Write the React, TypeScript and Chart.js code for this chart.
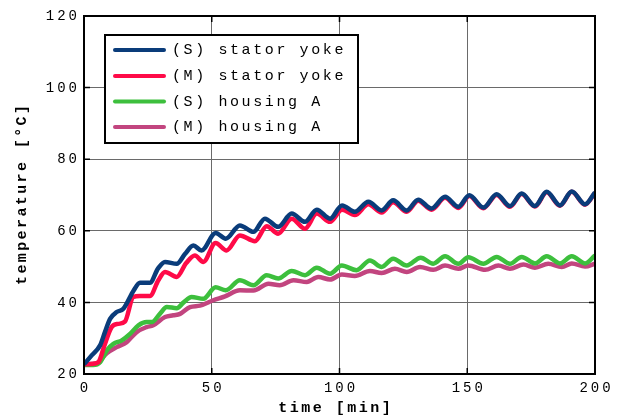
import React, { useEffect, useRef } from "react";
import { Chart, registerables } from "chart.js";
Chart.register(...registerables);

const FONT = '"Liberation Mono", "DejaVu Sans Mono", monospace';

const seriesLabels = ["(S) stator yoke", "(M) stator yoke", "(S) housing A", "(M) housing A"];
const seriesColors = ["#0a3c7a", "#ff0a48", "#3dbf3d", "#c2457f"];
const xTickValues = [0, 50, 100, 150, 200];
const yTickValues = [20, 40, 60, 80, 100, 120];
const xTitle = "time [min]";
const yTitle = "temperature [°C]";

const sStatorT = [0, 3, 6.3, 8.2, 10.2, 12.8, 15.4, 19.5, 21.9, 25.8, 29, 31.7, 36.3, 39.5, 42.8, 46, 51.5, 55.5, 61, 66.3, 70.8, 76, 81.3, 86.5, 91.1, 96.3, 101, 106, 111.3, 116.5, 121, 126.3, 130.8, 136, 141.3, 146.5, 150.8, 156.3, 161.5, 166.7, 171.3, 176.5, 181.1, 186.3, 190.9, 196.1, 200];
const sStatorV = [22.7, 25.2, 28, 31.7, 35.4, 37.3, 38.2, 43.4, 45.5, 45.5, 49.5, 51.3, 50.8, 53.5, 55.9, 54.5, 59.4, 57.8, 61.5, 59.7, 63.4, 61.1, 64.8, 62.5, 65.9, 63.4, 67.1, 65.3, 68.1, 65.7, 68.5, 65.7, 68.7, 66.2, 69.5, 66.7, 69.9, 66.5, 70.2, 66.9, 70.4, 66.9, 70.9, 67.1, 71, 67.4, 70.7];

const mStatorT = [0, 3, 5.6, 8.2, 10.8, 13.4, 16, 19.3, 21.9, 25.8, 29.1, 31.7, 36.3, 40, 43.4, 46.7, 51.5, 55.8, 61, 66.9, 71.5, 76, 81.3, 86.5, 91.1, 96.3, 101, 106, 111.3, 116.5, 121, 126.3, 130.8, 136, 141.3, 146.5, 150.8, 156.3, 161.5, 166.7, 171.3, 176.5, 181.1, 186.3, 190.9, 196.1, 200];
const mStatorV = [22.7, 22.8, 23.3, 28.4, 33.1, 34, 34.6, 41.5, 41.8, 41.8, 46.2, 48.5, 47.1, 51, 53.1, 51.3, 56.6, 54.5, 58.7, 57.1, 61.3, 59.2, 63.4, 60.6, 64.8, 62.5, 65.9, 64.4, 67.4, 65.1, 68, 65.3, 68.4, 65.9, 69.2, 66.4, 69.7, 66.3, 70, 66.7, 70.3, 66.8, 70.8, 67, 70.9, 67.3, 70.6];

const sHousingT = [0, 3.6, 6.3, 8.9, 11.5, 14.8, 18, 21.3, 24.5, 26.5, 29.7, 32.4, 36.3, 39, 42.1, 46.7, 51.5, 55.5, 61, 66.3, 71.5, 76, 81.3, 86.5, 91.1, 96.3, 100.9, 106.7, 111.9, 116.5, 121, 126.3, 131.8, 136.7, 141.3, 146.5, 150.4, 156.3, 161.5, 166.7, 171.3, 176.5, 181.1, 186.3, 190.9, 196.1, 200];
const sHousingV = [22.5, 22.5, 23.3, 26.6, 28.4, 29.4, 31.2, 33.6, 34.5, 34.5, 36.8, 38.7, 38.4, 40, 41.5, 41, 44.2, 43.4, 46.2, 44.8, 47.6, 46.7, 48.8, 47.6, 49.7, 48, 50.3, 49, 51.7, 49.9, 52.2, 50.3, 52.5, 50.8, 52.9, 50.8, 52.6, 50.8, 52.7, 50.8, 52.7, 50.9, 52.9, 50.9, 52.9, 50.9, 53.1];

const mHousingT = [0, 5, 8.9, 12.8, 16.7, 20.6, 24.5, 27.1, 31.7, 35, 37.6, 41.5, 45.4, 50.6, 55.2, 61, 66.3, 72.2, 76.6, 82, 87.2, 91.7, 96.3, 100.9, 106, 111.9, 116.5, 121.7, 126.3, 131.5, 136.7, 141.3, 146.5, 150.4, 157, 162.2, 166.7, 172, 176.5, 181.7, 187, 190.9, 196.1, 200];
const mHousingV = [22.7, 23, 25.8, 27.5, 28.9, 31.7, 33.1, 33.6, 35.9, 36.4, 36.8, 38.7, 39.1, 40.6, 41.7, 43.4, 43.3, 45.2, 44.8, 46.2, 45.7, 47.1, 46.4, 47.8, 47.4, 48.8, 48.2, 49.4, 48.5, 49.9, 49.1, 50.3, 49.4, 50.3, 49.1, 50.3, 49.4, 50.6, 49.7, 50.8, 49.9, 50.9, 50, 50.8];

const pts = (t: number[], v: number[]) => t.map((x, i) => ({ x, y: v[i] }));

function spacedText(ctx: CanvasRenderingContext2D, text: string, x: number, y: number, align: "left" | "right" | "center", spacing: number) {
  (ctx as any).letterSpacing = spacing + "px";
  ctx.textAlign = "left";
  const w = ctx.measureText(text).width - spacing;
  let sx = x;
  if (align === "right") sx = x - w;
  else if (align === "center") sx = x - w / 2;
  ctx.fillText(text, sx, y);
}

const customPlugin = {
  id: "customDecor",
  beforeDraw(chart: any) {
    const ctx = chart.ctx;
    ctx.save();
    ctx.fillStyle = "#fff";
    ctx.fillRect(0, 0, chart.width, chart.height);
    ctx.restore();
  },
  afterDraw(chart: any) {
    const { ctx, chartArea: a, scales } = chart;
    ctx.save();
    // inner tick marks
    ctx.strokeStyle = "#000";
    ctx.lineWidth = 1.5;
    const tl = 6;
    yTickValues.forEach((v) => {
      const y = scales.y.getPixelForValue(v);
      ctx.beginPath();
      ctx.moveTo(a.left, y); ctx.lineTo(a.left + tl, y);
      ctx.moveTo(a.right, y); ctx.lineTo(a.right - tl, y);
      ctx.stroke();
    });
    xTickValues.forEach((v) => {
      const x = scales.x.getPixelForValue(v);
      ctx.beginPath();
      ctx.moveTo(x, a.bottom); ctx.lineTo(x, a.bottom - tl);
      ctx.moveTo(x, a.top); ctx.lineTo(x, a.top + tl);
      ctx.stroke();
    });
    // frame
    ctx.lineWidth = 2;
    ctx.strokeRect(a.left, a.top, a.right - a.left, a.bottom - a.top);

    // tick labels
    ctx.fillStyle = "#000";
    ctx.font = `14px ${FONT}`;
    ctx.textBaseline = "middle";
    yTickValues.forEach((v) => {
      const y = scales.y.getPixelForValue(v);
      spacedText(ctx, String(v), a.left - 7, y + 0.5, "right", 3);
    });
    xTickValues.forEach((v) => {
      const x = scales.x.getPixelForValue(v);
      spacedText(ctx, String(v), x, a.bottom + 14.5, "center", 3);
    });

    // axis titles
    ctx.font = `bold 15px ${FONT}`;
    spacedText(ctx, xTitle, (a.left + a.right) / 2 - 5, 408, "center", 2.5);
    ctx.save();
    ctx.translate(22, (a.top + a.bottom) / 2);
    ctx.rotate(-Math.PI / 2);
    spacedText(ctx, yTitle, 0, 0, "center", 2.4);
    ctx.restore();

    // legend
    const lx = 105, ly = 35, lw = 253, lh = 108;
    ctx.fillStyle = "#fff";
    ctx.fillRect(lx, ly, lw, lh);
    ctx.strokeStyle = "#000";
    ctx.lineWidth = 2;
    ctx.strokeRect(lx, ly, lw, lh);
    const rows = [50, 76, 101.5, 127];
    chart.data.datasets.forEach((ds: any, i: number) => {
      const ry = rows[i];
      ctx.strokeStyle = ds.borderColor;
      ctx.lineWidth = 4;
      ctx.lineCap = "round";
      ctx.beginPath();
      ctx.moveTo(115, ry); ctx.lineTo(164, ry);
      ctx.stroke();
      ctx.fillStyle = "#000";
      ctx.font = `15px ${FONT}`;
      ctx.textBaseline = "middle";
      spacedText(ctx, ds.label, 172, ry + 0.5, "left", 2.6);
    });
    ctx.restore();
  },
};

export default function App() {
  const ref = useRef<HTMLCanvasElement>(null);
  useEffect(() => {
    const canvas = ref.current!;
    const data = [
      pts(sStatorT, sStatorV),
      pts(mStatorT, mStatorV),
      pts(sHousingT, sHousingV),
      pts(mHousingT, mHousingV),
    ];
    const chart = new Chart(canvas, {
      type: "line",
      data: {
        datasets: data.map((d, i) => ({
          label: seriesLabels[i],
          data: d,
          borderColor: seriesColors[i],
          backgroundColor: seriesColors[i],
          borderWidth: 4.5,
          pointRadius: 0,
          cubicInterpolationMode: "monotone" as const,
          fill: false,
        })),
      },
      options: {
        responsive: false,
        animation: false,
        devicePixelRatio: 1,
        layout: { padding: { top: 16, right: 22, left: 0, bottom: 0 } },
        plugins: { legend: { display: false }, tooltip: { enabled: false } },
        scales: {
          x: {
            type: "linear",
            min: 0,
            max: 200,
            ticks: { stepSize: 50, display: false },
            grid: { color: "#6a6a6a", lineWidth: 1, drawTicks: false },
            border: { display: false },
            afterFit: (s: any) => { s.height = 45; },
          },
          y: {
            type: "linear",
            min: 20,
            max: 120,
            ticks: { stepSize: 20, display: false },
            grid: { color: "#6a6a6a", lineWidth: 1, drawTicks: false },
            border: { display: false },
            afterFit: (s: any) => { s.width = 84; },
          },
        },
      },
      plugins: [customPlugin],
    });
    return () => chart.destroy();
  }, []);
  return (
    <div style={{ position: "fixed", left: 0, top: 0, width: 617, height: 419, background: "#fff" }}>
      <canvas ref={ref} width={617} height={419} style={{ display: "block" }} />
    </div>
  );
}
